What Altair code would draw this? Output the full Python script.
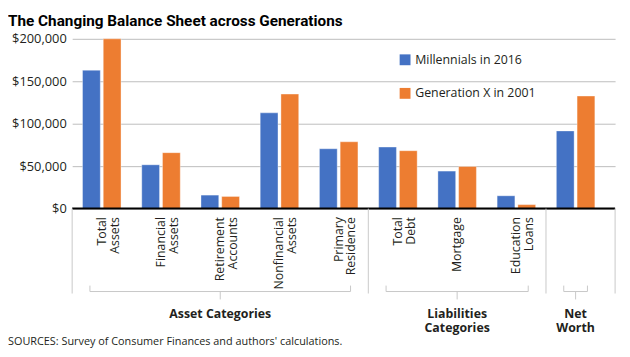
import altair as alt
import pandas as pd

categories = ["Total Assets", "Financial Assets", "Retirement Accounts", "Nonfinancial Assets",
              "Primary Residence", "Total Debt", "Mortgage", "Education Loans", "Net Worth"]
series = ["Millennials in 2016", "Generation X in 2001"]
millennials = [163000, 51600, 15900, 112800, 70500, 72500, 44200, 15100, 91500]
genx = [200000, 65900, 14300, 134900, 78700, 68200, 49600, 4700, 132600]
y_ticks = [0, 50000, 100000, 150000, 200000]
colors = ["#4472C4", "#ED7D31"]

group_labels = ["Asset Categories", "Liabilities\nCategories", "Net\nWorth"]
group_first = ["Total Assets", "Total Debt", "Net Worth"]
group_last = ["Primary Residence", "Education Loans", "Net Worth"]
group_mid = ["Retirement Accounts", "Mortgage", "Net Worth"]

title_text = "The Changing Balance Sheet across Generations"
source_text = "SOURCES: Survey of Consumer Finances and authors' calculations."

FONT = "Open Sans"
TXT = "#231f20"
GRAY = "#c8c8c8"
W, H = 550, 172

rows = []
for c, m, g in zip(categories, millennials, genx):
    rows.append({"category": c, "series": series[0], "value": m})
    rows.append({"category": c, "series": series[1], "value": g})
bars_df = pd.DataFrame(rows)

groups_df = pd.DataFrame({"label": group_labels, "first": group_first,
                          "last": group_last, "mid": group_mid})
sep_df = pd.DataFrame({"cat": group_first})

xscale = alt.Scale(domain=categories, paddingInner=0, paddingOuter=(W / 60 - 9) / 2, align=0)

bars = alt.Chart(bars_df).mark_bar(stroke="white", strokeWidth=0.6, strokeOpacity=0.6).encode(
    x=alt.X("category:N", sort=categories, scale=xscale, title=None,
            axis=alt.Axis(domain=False, ticks=False, labelAngle=-90, labelAlign="right",
                          labelBaseline="middle", labelPadding=8, labelLineHeight=13,
                          labelFontSize=12.5, labelOverlap=False, labelFont=FONT, labelColor=TXT,
                          labelExpr="datum.value == 'Net Worth' ? '' : split(datum.value, ' ')")),
    xOffset=alt.XOffset("series:N", sort=series,
                        scale=alt.Scale(domain=series, paddingInner=0.143, paddingOuter=0.5)),
    y=alt.Y("value:Q", scale=alt.Scale(domain=[0, 200000], nice=False), title=None,
            axis=alt.Axis(values=y_ticks, format="$,.0f", grid=True, gridColor="#bdbdbd",
                          domain=False, ticks=False, labelPadding=6, labelFontSize=13,
                          labelFont=FONT, labelColor=TXT)),
    color=alt.Color("series:N", sort=series, scale=alt.Scale(domain=series, range=colors),
                    legend=alt.Legend(orient="none", legendX=331, legendY=15, title=None,
                                      direction="vertical", symbolType="square", symbolSize=121,
                                      symbolStrokeWidth=0, labelFontSize=12.5, labelFont=FONT,
                                      labelColor=TXT, rowPadding=21, labelOffset=4)),
)

baseline = alt.Chart(pd.DataFrame({"v": [0]})).mark_rule(color="black", strokeWidth=2).encode(
    y=alt.Y("v:Q"))

seps = alt.Chart(sep_df).mark_rule(color=GRAY, strokeWidth=1).encode(
    x=alt.X("cat:N", sort=categories, bandPosition=0),
    y=alt.value(H), y2=alt.value(H + 86))
edge = alt.Chart(pd.DataFrame({"e": [1]})).mark_rule(color=GRAY, strokeWidth=1).encode(
    x=alt.value(W), y=alt.value(H), y2=alt.value(H + 86))

hline = alt.Chart(groups_df).mark_rule(color=GRAY, strokeWidth=1).encode(
    x=alt.X("first:N", sort=categories, bandPosition=0.3),
    x2=alt.X2("last:N", bandPosition=0.7),
    y=alt.value(H + 84))
lend = alt.Chart(groups_df).mark_rule(color=GRAY, strokeWidth=1).encode(
    x=alt.X("first:N", sort=categories, bandPosition=0.3),
    y=alt.value(H + 78), y2=alt.value(H + 84))
rend = alt.Chart(groups_df).mark_rule(color=GRAY, strokeWidth=1).encode(
    x=alt.X("last:N", sort=categories, bandPosition=0.7),
    y=alt.value(H + 78), y2=alt.value(H + 84))
mtick = alt.Chart(groups_df).mark_rule(color=GRAY, strokeWidth=1).encode(
    x=alt.X("mid:N", sort=categories, bandPosition=0.5),
    y=alt.value(H + 84), y2=alt.value(H + 92))

glabels = alt.Chart(groups_df).mark_text(font=FONT, fontSize=12.5, fontWeight="bold", color=TXT,
                                         lineBreak="\n", lineHeight=14, baseline="alphabetic",
                                         align="center").encode(
    x=alt.X("mid:N", sort=categories, bandPosition=0.5),
    y=alt.value(H + 111),
    text="label:N")

title = alt.Chart(pd.DataFrame({"t": [title_text]})).mark_text(
    font="Roboto", fontSize=15.5, fontWeight="bold", color="black",
    align="left", baseline="alphabetic").encode(
    x=alt.value(-65), y=alt.value(-13), text="t:N")

source = alt.Chart(pd.DataFrame({"t": [source_text]})).mark_text(
    font=FONT, fontSize=11, color=TXT, align="left", baseline="alphabetic").encode(
    x=alt.value(-65), y=alt.value(H + 138), text="t:N")

chart = alt.layer(bars, baseline, seps, edge, hline, lend, rend, mtick, glabels, title,
                  source).properties(
    width=W, height=H,
    autosize=alt.AutoSizeParams(type="none"),
    padding={"left": 65, "top": 29, "right": 7, "bottom": 140},
).configure_view(stroke=None)

chart.save("out.html", embed_options={"renderer": "svg", "actions": False})
